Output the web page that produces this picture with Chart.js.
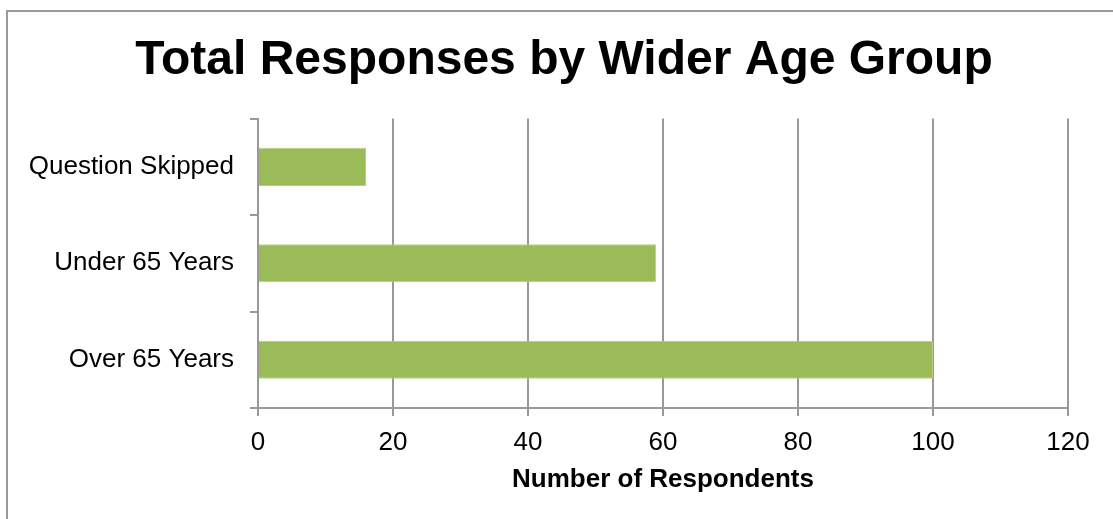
<!DOCTYPE html>
<html>
<head>
<meta charset="utf-8">
<script src="https://cdn.jsdelivr.net/npm/chart.js@4"></script>
<style>
  html, body { margin: 0; padding: 0; background: #fff; overflow: hidden; }
  #frame { position: absolute; left: 6px; top: 10px; width: 1200px; height: 600px; border: 2px solid #9a9a9a; box-sizing: border-box; }
  #wrap { position: absolute; left: 0; top: 0; width: 1113px; height: 519px; }
</style>
</head>
<body>
<div id="frame"></div>
<div id="wrap"><canvas id="c"></canvas></div>
<script>
const titleText = "Total Responses by Wider Age Group";
const axisTitle = "Number of Respondents";
const categories = ["Question Skipped", "Under 65 Years", "Over 65 Years"];
const respondents = [16, 59, 100];
const xMin = 0, xMax = 120, xStep = 20;

const FONT = "'Liberation Sans', Arial, sans-serif";
const GRID = '#999999';

new Chart(document.getElementById('c'), {
  type: 'bar',
  data: {
    labels: categories,
    datasets: [{
      data: respondents,
      backgroundColor: '#9BBB59',
      borderColor: '#b3cd84',
      borderWidth: 1,
      categoryPercentage: 1,
      barPercentage: 0.395
    }]
  },
  options: {
    indexAxis: 'y',
    responsive: true,
    maintainAspectRatio: false,
    animation: false,
    layout: { padding: { left: 15, right: 0, top: 0, bottom: 0 } },
    plugins: {
      legend: { display: false },
      tooltip: { enabled: false },
      title: {
        display: true,
        text: titleText,
        color: '#000',
        font: { family: FONT, size: 48, weight: 'bold' },
        padding: { top: 32, bottom: 29 }
      }
    },
    scales: {
      x: {
        min: xMin, max: xMax,
        ticks: { stepSize: xStep, color: '#000', font: { family: FONT, size: 26 }, padding: 11 },
        grid: { color: GRID, lineWidth: 2, tickLength: 8 },
        border: { color: GRID, width: 2 },
        title: { display: true, text: axisTitle, color: '#000', font: { family: FONT, size: 26, weight: 'bold' }, padding: { top: 0, bottom: 24 } },
        afterFit: (s) => { s.height = 111; }
      },
      y: {
        ticks: { color: '#000', font: { family: FONT, size: 26 }, padding: 16 },
        grid: { color: GRID, lineWidth: 2, tickLength: 8, drawOnChartArea: false, offset: true },
        border: { color: GRID, width: 2 },
        afterFit: (s) => { s.width = 243; }
      },
      yRight: {
        type: 'category',
        position: 'right',
        ticks: { display: false },
        grid: { display: false },
        border: { display: false },
        afterFit: (s) => { s.width = 45; }
      }
    }
  }
});
</script>
</body>
</html>
